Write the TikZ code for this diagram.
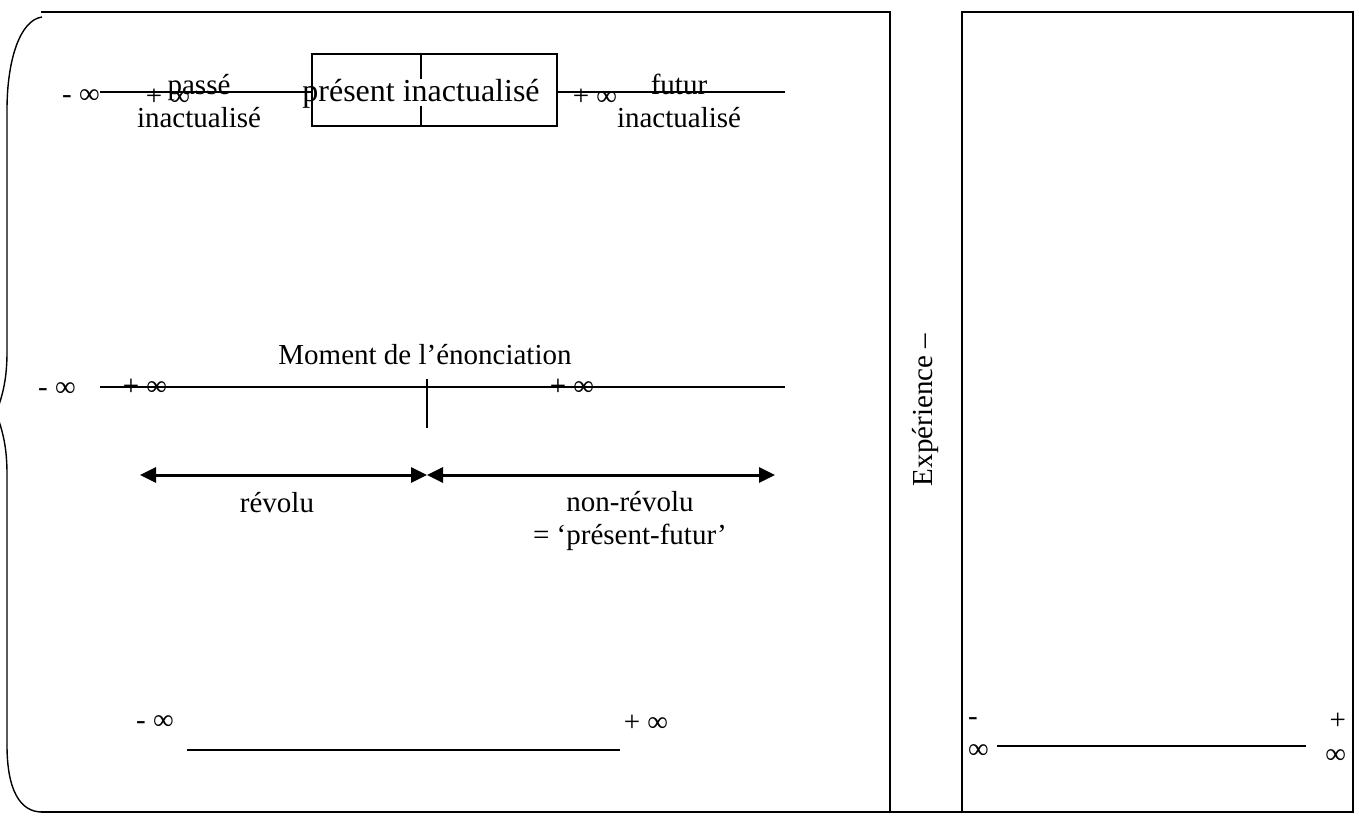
\documentclass[tikz,border=0pt]{standalone}
\usepackage{fontspec}
\setmainfont{Liberation Serif}
\usepackage{tikz}
\usetikzlibrary{positioning}
\usetikzlibrary{arrows.meta,calc}
\newcommand{\txtsize}{\fontsize{14.5}{16.8}\selectfont}

\begin{document}
\begin{tikzpicture}[x=0.5pt, y=-0.5pt, outer sep = 0pt]
\tikzstyle{lbl}=[
                  inner sep=0pt,
                  font=\txtsize,
                  align=center]

\tikzstyle{frame}=[
                  line width=1pt,
                  line cap=rect]

\tikzstyle{axis}=[
                  line width=0.8pt]

\tikzstyle{span}=[
                  line width=1.5pt,
                  {Triangle[length=8pt,width=7.5pt]}-{Triangle[length=8pt,width=7.5pt]}]

\useasboundingbox (0,0) rectangle (1359,820);

% table
\coordinate (tl)  at (42,12);
\coordinate (tm)  at (890,12);
\coordinate (bl)  at (42,812);
\coordinate (bm)  at (890,812);
\coordinate (tr1) at (962,12);
\coordinate (br1) at (962,812);
\coordinate (tr2) at (1353,12);
\coordinate (br2) at (1353,812);
\draw [frame] (tl) -- (tm) -- (bm);
\draw [frame] (bl) -- (br2);
\draw [frame] (br1) -- (tr1) -- (tr2) -- (br2);

% brace
\draw [line width=0.7pt] (42,17) .. controls (20,20) and (7,60) .. (7,110) -- (7,352)
      .. controls (7,378) and (3,395) .. (-4,413)
      .. controls (3,431) and (7,448) .. (7,474) -- (7,745)
      .. controls (7,790) and (20,812) .. (42,812);

% inactualise
\coordinate (a1) at (100,92);
\coordinate (a2) at (312,92);
\coordinate (a3) at (557,92);
\coordinate (a4) at (785,92);
\draw [axis] (a1) -- (a2);
\draw [axis] (a3) -- (a4);
\draw [axis] (312,54) rectangle (557,126);
\draw [axis] (421,54) -- (421,79);
\draw [axis] (421,106) -- (421,126);

\node[lbl] (minf1)   at (81,97)   {- ∞};
\node[lbl] (pinf1)   at (168,97)  {+ ∞};
\node[lbl] (passe)   at (199,101) {passé\\inactualisé};
\node[lbl] (present) at (421,94)  [font=\fontsize{16}{18}\selectfont] {présent inactualisé};
\node[lbl] (pinf2)   at (595,97)  {+ ∞};
\node[lbl] (futur)   at (679,101) {futur\\inactualisé};

% enonciation
\coordinate (b1) at (100,387);
\coordinate (b2) at (785,387);
\coordinate (mt) at (427,379);
\coordinate (mb) at (427,428);
\draw [axis] (b1) -- (b2);
\draw [axis] (mt) -- (mb);

\node[lbl] (moment) at (425,355) {Moment de l’énonciation};
\node[lbl] (minf2)  at (57,390)  {- ∞};
\node[lbl] (pinf3)  at (145,387) {+ ∞};
\node[lbl] (pinf4)  at (572,387) {+ ∞};

\coordinate (r1) at (140,475);
\coordinate (r2) at (427,475);
\coordinate (r3) at (775,475);
\draw [span] (r1) -- (r2);
\draw [span] (r2) -- (r3);

\node[lbl] (revolu)    at (277,503) {révolu};
\node[lbl] (nonrevolu) at (630,521) {non-révolu\\= ‘présent-futur’};

% bas
\coordinate (c1) at (187,750);
\coordinate (c2) at (620,750);
\draw [axis] (c1) -- (c2);
\node[lbl] (minf3) at (155,723) {- ∞};
\node[lbl] (pinf5) at (646,723) {+ ∞};

% experience
\node[lbl] (exp) at (925,410) [rotate=90] {Expérience –};

\coordinate (d1) at (997,746);
\coordinate (d2) at (1306,746);
\draw [axis] (d1) -- (d2);
\node[lbl] (minf4) at (968,738) [align=left, anchor=west]  {-\\∞};
\node[lbl] (pinf6) at (1346,738) [align=right, anchor=east] {+\\∞};

\end{tikzpicture}
\end{document}
